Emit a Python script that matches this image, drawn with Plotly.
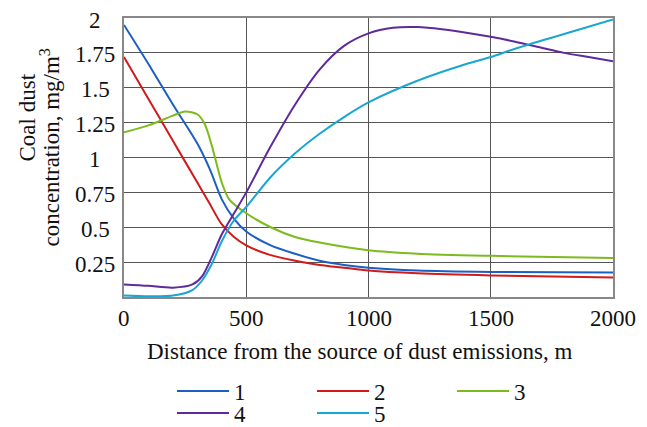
import plotly.graph_objects as go

# Distance from the dust source, m, and concentration (mg/m3) for each curve
x1 = [0, 100, 200, 300, 350, 400, 450, 500, 600, 700, 800, 900, 1000, 1200, 1500, 2000]
y1 = [1.95, 1.67, 1.38, 1.1, 0.92, 0.7, 0.56, 0.47, 0.37, 0.31, 0.26, 0.23, 0.21, 0.19, 0.18, 0.175]

x2 = [0, 100, 200, 300, 350, 400, 450, 500, 600, 700, 800, 900, 1000, 1200, 1500, 2000]
y2 = [1.72, 1.42, 1.12, 0.82, 0.67, 0.52, 0.43, 0.37, 0.3, 0.26, 0.23, 0.21, 0.19, 0.17, 0.155, 0.14]

x3 = [0, 100, 200, 250, 300, 330, 360, 400, 430, 500, 600, 700, 800, 1000, 1200, 1500, 2000]
y3 = [1.18, 1.23, 1.3, 1.33, 1.31, 1.24, 1.08, 0.82, 0.7, 0.6, 0.5, 0.43, 0.39, 0.335, 0.31, 0.295, 0.28]

x4 = [0, 100, 200, 280, 320, 360, 400, 450, 500, 600, 700, 800, 900, 1000, 1100, 1200, 1300,
      1400, 1500, 1600, 1700, 1800, 1900, 2000]
y4 = [0.09, 0.08, 0.067, 0.09, 0.15, 0.29, 0.45, 0.6, 0.75, 1.08, 1.38, 1.63, 1.8, 1.89, 1.93,
      1.935, 1.92, 1.895, 1.865, 1.83, 1.79, 1.75, 1.72, 1.69]

x5 = [0, 100, 200, 280, 320, 360, 400, 450, 500, 600, 700, 800, 900, 1000, 1200, 1400, 1500,
      1600, 1800, 2000]
y5 = [0.01, 0.005, 0.01, 0.05, 0.12, 0.24, 0.4, 0.55, 0.645, 0.86, 1.03, 1.17, 1.29, 1.395,
      1.55, 1.67, 1.72, 1.78, 1.885, 1.99]

names = ["1", "2", "3", "4", "5"]
colors = ["#1c5fc4", "#d11a1a", "#7cbb1e", "#5e2a9c", "#1aa6d3"]

x_ticks = [0, 500, 1000, 1500, 2000]
x_tick_labels = ["0", "500", "1000", "1500", "2000"]
y_ticks = [0.25, 0.5, 0.75, 1, 1.25, 1.5, 1.75, 2]
y_tick_labels = ["0.25", "0.5", "0.75", "1", "1.25", "1.5", "1.75", "2"]

FONT = "'Times New Roman', 'Liberation Serif', Times, serif"
TXT = "#111"

fig = go.Figure()
series = [(x1, y1), (x2, y2), (x3, y3), (x4, y4), (x5, y5)]
for i, ((xs, ys), name, col) in enumerate(zip(series, names, colors)):
    fig.add_trace(go.Scatter(
        x=xs, y=ys, name=name, mode="lines",
        line=dict(color=col, width=2, shape="spline", smoothing=0.8),
        legend="legend" if i < 3 else "legend2",
    ))

annotations = []
# y tick labels, centred in a column left of the frame
for v, t in zip(y_ticks, y_tick_labels):
    annotations.append(dict(
        x=0, xref="paper", xshift=-29, xanchor="center",
        y=v, yref="y", yshift=-2, yanchor="middle",
        text=t, showarrow=False, font=dict(family=FONT, size=23, color=TXT),
    ))
# x tick labels, centred under each tick
for v, t in zip(x_ticks, x_tick_labels):
    annotations.append(dict(
        x=v, xref="x", xanchor="center",
        y=0, yref="paper", yshift=-21, yanchor="middle",
        text=t, showarrow=False, font=dict(family=FONT, size=23, color=TXT),
    ))
# axis titles
annotations.append(dict(
    x=0.0429, xref="paper", y=-0.197, yref="paper",
    xanchor="left", yanchor="middle",
    text="Distance from the source of dust emissions, m", showarrow=False,
    font=dict(family=FONT, size=23, color=TXT),
))
annotations.append(dict(
    x=-0.1973, xref="paper", y=0.6416, yref="paper",
    xanchor="center", yanchor="middle", textangle=-90,
    text="Coal dust", showarrow=False,
    font=dict(family=FONT, size=23, color=TXT),
))
annotations.append(dict(
    x=-0.1513, xref="paper", y=0.5358, yref="paper",
    xanchor="center", yanchor="middle", textangle=-90,
    text="concentration, mg/m<sup>3</sup>", showarrow=False,
    font=dict(family=FONT, size=23, color=TXT),
))

legend_common = dict(
    orientation="h", xref="container", yref="container",
    xanchor="left", yanchor="middle",
    font=dict(family=FONT, size=23, color=TXT),
    entrywidth=73, entrywidthmode="pixels", itemwidth=52,
    bgcolor="rgba(0,0,0,0)", tracegroupgap=0,
)

fig.update_layout(
    width=647, height=427,
    margin=dict(l=124, r=34, t=18, b=130),
    paper_bgcolor="white", plot_bgcolor="white",
    showlegend=True,
    legend=dict(x=172 / 647, y=1 - 391 / 427, **legend_common),
    legend2=dict(x=172 / 647, y=1 - 413 / 427, **legend_common),
    annotations=annotations,
    xaxis=dict(
        range=[0, 2000], tickvals=x_ticks, showticklabels=False,
        showgrid=True, gridcolor="#555", gridwidth=1.2,
        showline=True, linecolor="#888", linewidth=1.5, mirror=True,
        zeroline=False, ticks="",
    ),
    yaxis=dict(
        range=[0, 2], tickvals=y_ticks, showticklabels=False,
        showgrid=True, gridcolor="#555", gridwidth=1.2,
        showline=True, linecolor="#888", linewidth=1.5, mirror=True,
        zeroline=False, ticks="",
    ),
)

fig.write_html("out.html")
